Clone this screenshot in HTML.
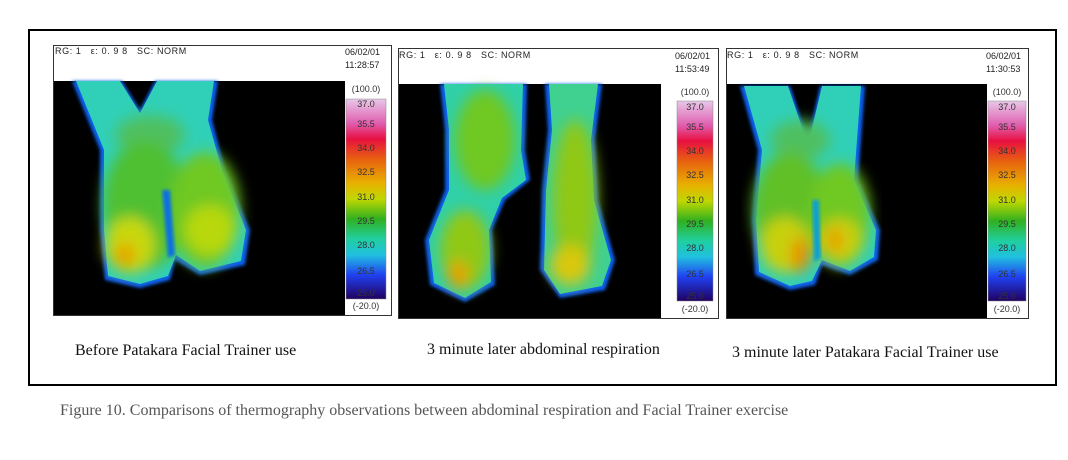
<!DOCTYPE html>
<html><head><style>
body{margin:0;background:#fff;width:1068px;height:460px;overflow:hidden;position:relative;font-family:"Liberation Serif",serif}
.abs{position:absolute}
.hdr{font-family:"Liberation Sans",sans-serif;font-size:9px;color:#222;letter-spacing:0.6px;white-space:nowrap}
.dt{font-family:"Liberation Sans",sans-serif;font-size:9px;color:#222;line-height:13px}
.cap{font-size:16px;color:#111;white-space:nowrap}
</style></head><body>
<div class="abs" style="left:28px;top:29px;width:1025px;height:353px;border:2px solid #000"></div>
<svg class="abs" style="left:0;top:0" width="1068" height="460">
<defs>
<linearGradient id="cb" x1="0" y1="0" x2="0" y2="1">
<stop offset="0" stop-color="#e8c8e8"/><stop offset="0.12" stop-color="#e060b0"/><stop offset="0.2" stop-color="#e81040"/>
<stop offset="0.3" stop-color="#e86010"/><stop offset="0.42" stop-color="#e8b000"/><stop offset="0.5" stop-color="#c0d800"/>
<stop offset="0.6" stop-color="#30b020"/><stop offset="0.7" stop-color="#20d0a0"/><stop offset="0.78" stop-color="#20c0e0"/>
<stop offset="0.88" stop-color="#2040f0"/><stop offset="1" stop-color="#200060"/></linearGradient>
<filter id="b1"><feGaussianBlur stdDeviation="1.5"/></filter>
<filter id="b6"><feGaussianBlur stdDeviation="7"/></filter>
</defs>
<rect x="53.5" y="45.5" width="338" height="270" fill="#fff" stroke="#333"/>
<rect x="54" y="81" width="291" height="234" fill="#000"/>
<rect x="398.5" y="48.5" width="320" height="270" fill="#fff" stroke="#333"/>
<rect x="399" y="84" width="262" height="234" fill="#000"/>
<rect x="726.5" y="48.5" width="302" height="270" fill="#fff" stroke="#333"/>
<rect x="727" y="84" width="260" height="234" fill="#000"/>
<rect x="346" y="99" width="40" height="200" fill="url(#cb)" stroke="#888" stroke-width="0.5"/>
<rect x="677" y="101" width="36" height="200" fill="url(#cb)" stroke="#888" stroke-width="0.5"/>
<rect x="988" y="101" width="38" height="200" fill="url(#cb)" stroke="#888" stroke-width="0.5"/>
<g font-family="Liberation Sans,sans-serif" font-size="9" fill="#333" text-anchor="middle">
<g transform="translate(366,0)">
<text y="92">(100.0)</text><text y="107">37.0</text><text y="127">35.5</text><text y="151">34.0</text><text y="175">32.5</text><text y="200">31.0</text><text y="224">29.5</text><text y="248">28.0</text><text y="274">26.5</text><text y="296">25.0</text><text y="309">(-20.0)</text></g>
<g transform="translate(695,3)">
<text y="92">(100.0)</text><text y="107">37.0</text><text y="127">35.5</text><text y="151">34.0</text><text y="175">32.5</text><text y="200">31.0</text><text y="224">29.5</text><text y="248">28.0</text><text y="274">26.5</text><text y="296">25.0</text><text y="309">(-20.0)</text></g>
<g transform="translate(1007,3)">
<text y="92">(100.0)</text><text y="107">37.0</text><text y="127">35.5</text><text y="151">34.0</text><text y="175">32.5</text><text y="200">31.0</text><text y="224">29.5</text><text y="248">28.0</text><text y="274">26.5</text><text y="296">25.0</text><text y="309">(-20.0)</text></g>
</g>
<g>
<path d="M72,81 L122,81 L140,110 L155,81 L218,81 L212,120 L225,170 L250,230 L245,265 L200,275 L175,260 L170,280 L140,288 L105,280 L100,230 L100,150 Z" fill="#1060f0" filter="url(#b1)"/>
<path d="M76,81 L120,81 L140,113 L157,81 L214,81 L208,120 L222,170 L246,230 L241,261 L200,271 L176,255 L168,276 L140,284 L108,276 L104,230 L104,150 Z" fill="#30d0b8"/>
<g filter="url(#b6)">
<ellipse cx="150" cy="135" rx="35" ry="20" fill="#50c060"/>
<ellipse cx="145" cy="205" rx="42" ry="65" fill="#50c030"/>
<ellipse cx="205" cy="210" rx="35" ry="58" fill="#70c820"/>
<ellipse cx="130" cy="245" rx="25" ry="28" fill="#c8d810"/>
<ellipse cx="210" cy="230" rx="25" ry="25" fill="#b8d810"/>
<ellipse cx="125" cy="255" rx="10" ry="12" fill="#e8a000"/>
</g>
<path d="M162,190 L170,190 L175,255 L168,258 Z" fill="#1070e0" filter="url(#b1)"/>
</g>
<g>
<path d="M440,84 L527,84 L525,150 L530,180 L505,200 L492,230 L495,285 L465,302 L430,285 L425,240 L445,190 L445,130 Z" fill="#1060f0" filter="url(#b1)"/>
<path d="M444,84 L523,84 L521,150 L526,180 L502,198 L489,230 L491,282 L465,298 L434,283 L429,240 L449,190 L449,130 Z" fill="#30d0a8"/>
<path d="M545,84 L602,84 L595,140 L598,200 L615,260 L605,290 L560,298 L540,270 L542,190 L548,130 Z" fill="#1060f0" filter="url(#b1)"/>
<path d="M549,84 L598,84 L591,140 L594,200 L611,260 L602,286 L560,294 L544,270 L546,190 L552,130 Z" fill="#40d090"/>
<g filter="url(#b6)">
<ellipse cx="485" cy="140" rx="30" ry="50" fill="#70c820"/>
<ellipse cx="465" cy="250" rx="25" ry="40" fill="#90c818"/>
<ellipse cx="458" cy="275" rx="10" ry="14" fill="#e8a000"/>
<ellipse cx="575" cy="200" rx="22" ry="80" fill="#90c818"/>
<ellipse cx="570" cy="265" rx="20" ry="20" fill="#d8c810"/>
</g>
</g>
<g>
<path d="M740,86 L790,86 L808,140 L820,86 L865,86 L858,180 L880,230 L878,260 L850,275 L822,265 L815,285 L790,290 L755,275 L752,220 L758,150 Z" fill="#1060f0" filter="url(#b1)"/>
<path d="M744,86 L788,86 L808,145 L822,86 L861,86 L854,180 L876,230 L874,257 L850,271 L822,260 L812,281 L790,286 L759,272 L756,220 L762,150 Z" fill="#30d0b8"/>
<g filter="url(#b6)">
<ellipse cx="800" cy="140" rx="30" ry="20" fill="#50c060"/>
<ellipse cx="790" cy="210" rx="37" ry="58" fill="#60c028"/>
<ellipse cx="840" cy="215" rx="30" ry="52" fill="#70c820"/>
<ellipse cx="785" cy="245" rx="25" ry="28" fill="#c8d010"/>
<ellipse cx="840" cy="240" rx="22" ry="22" fill="#c8d010"/>
<ellipse cx="800" cy="255" rx="9" ry="18" fill="#e89000"/>
<ellipse cx="835" cy="240" rx="8" ry="14" fill="#e8a000"/>
</g>
<path d="M812,200 L819,200 L821,258 L814,262 Z" fill="#10a0d0" filter="url(#b1)"/>
</g>
</svg>
<div class="abs hdr" style="left:55px;top:46px">RG: 1 &nbsp; ε: 0. 9 8 &nbsp; SC: NORM</div>
<div class="abs dt" style="left:345px;top:46px">06/02/01<br>11:28:57</div>
<div class="abs hdr" style="left:399px;top:50px">RG: 1 &nbsp; ε: 0. 9 8 &nbsp; SC: NORM</div>
<div class="abs dt" style="left:675px;top:50px">06/02/01<br>11:53:49</div>
<div class="abs hdr" style="left:727px;top:50px">RG: 1 &nbsp; ε: 0. 9 8 &nbsp; SC: NORM</div>
<div class="abs dt" style="left:986px;top:50px">06/02/01<br>11:30:53</div>
<div class="abs cap" style="left:75px;top:342px">Before Patakara Facial Trainer use</div>
<div class="abs cap" style="left:427px;top:341px">3 minute later abdominal respiration</div>
<div class="abs cap" style="left:732px;top:344px">3 minute later Patakara Facial Trainer use</div>
<div class="abs" style="left:60px;top:402px;font-size:16px;color:#555;white-space:nowrap">Figure 10. Comparisons of thermography observations between abdominal respiration and Facial Trainer exercise</div>
</body></html>
